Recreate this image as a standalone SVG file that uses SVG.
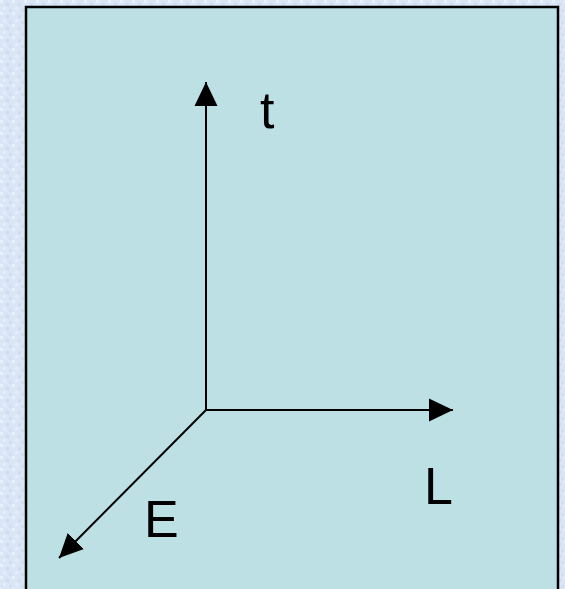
<svg xmlns="http://www.w3.org/2000/svg" width="565" height="589" viewBox="0 0 565 589">
  <defs>
    <pattern id="tex" width="12" height="12" patternUnits="userSpaceOnUse">
      <rect width="12" height="12" fill="#DAE6F6"/>
      <rect x="0" y="0" width="3" height="3" fill="#E8F0FB"/>
      <rect x="6" y="3" width="3" height="3" fill="#CCDCF2"/>
      <rect x="3" y="7" width="3" height="3" fill="#E4EDFA"/>
      <rect x="9" y="9" width="3" height="3" fill="#D0DFF3"/>
    </pattern>
    <marker id="arr" markerUnits="userSpaceOnUse" markerWidth="24" markerHeight="24" refX="24" refY="11.5" orient="auto" viewBox="0 0 24 23">
      <polygon points="0,0 24,11.5 0,23" fill="#000"/>
    </marker>
  </defs>
  <style>
    .axis { stroke: #000; stroke-width: 2; fill: none; marker-end: url(#arr); }
    .lbl { font-family: "Liberation Sans", Arial, sans-serif; font-size: 52px; fill: #000; }
  </style>
  <rect width="565" height="589" fill="url(#tex)"/>
  <rect id="panel" x="26" y="7" width="532" height="590" fill="#BCE0E3" stroke="#000" stroke-width="2.5"/>
  <g id="connectors">
    <line class="axis" x1="206" y1="411" x2="206" y2="82"/>
    <line class="axis" x1="205" y1="410" x2="453" y2="410"/>
    <line class="axis" x1="206" y1="410" x2="59" y2="558"/>
  </g>
  <g id="label-t"><text class="lbl" x="260" y="128">t</text></g>
  <g id="label-L"><text class="lbl" x="424" y="504">L</text></g>
  <g id="label-E"><text class="lbl" x="144" y="537">E</text></g>
</svg>
